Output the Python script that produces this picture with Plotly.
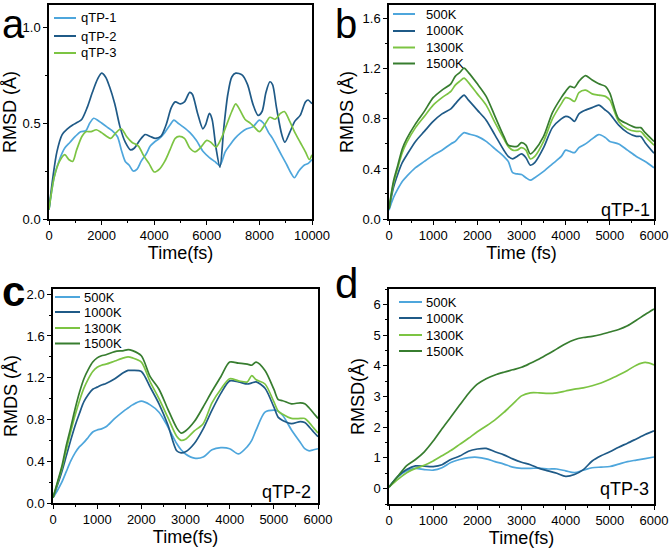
import plotly.graph_objects as go

# ---------------- data ----------------
# Panel a: comparison of three molecules (time in fs, RMSD in Å)
a_t_qtp1 = [0,200,400,600,800,1000,1200,1400,1550,1700,1850,2000,2200,2400,2600,2750,2900,3050,3200,3350,3500,3700,3850,4000,4200,4400,4600,4750,4900,5100,5360,5600,5870,6100,6300,6500,6700,6900,7070,7300,7520,7750,8000,8150,8350,8500,8660,8850,9050,9200,9330,9500,9700,9860,10000]
a_v_qtp1 = [0.05,0.22,0.31,0.37,0.40,0.43,0.455,0.46,0.50,0.525,0.515,0.50,0.48,0.46,0.43,0.36,0.30,0.28,0.25,0.26,0.30,0.34,0.38,0.40,0.42,0.45,0.49,0.515,0.50,0.48,0.45,0.41,0.35,0.32,0.30,0.28,0.35,0.39,0.42,0.45,0.47,0.48,0.515,0.50,0.45,0.42,0.38,0.33,0.28,0.24,0.215,0.25,0.28,0.29,0.31]

a_t_qtp2 = [0,150,300,500,700,900,1100,1250,1450,1650,1850,2000,2150,2300,2500,2700,2900,3100,3250,3450,3650,3850,4050,4250,4450,4650,4800,5000,5150,5350,5450,5650,5850,5950,6100,6200,6350,6500,6650,6800,6950,7100,7350,7550,7750,7950,8100,8250,8400,8500,8650,8850,8970,9150,9350,9550,9750,9850,10000]
a_v_qtp2 = [0.05,0.22,0.35,0.44,0.47,0.49,0.505,0.52,0.58,0.66,0.73,0.76,0.74,0.69,0.60,0.48,0.40,0.36,0.37,0.41,0.44,0.43,0.42,0.43,0.49,0.58,0.61,0.60,0.61,0.66,0.65,0.55,0.47,0.49,0.55,0.52,0.37,0.27,0.48,0.65,0.74,0.76,0.75,0.70,0.60,0.54,0.56,0.66,0.715,0.70,0.58,0.44,0.40,0.45,0.51,0.54,0.61,0.62,0.60]

a_t_qtp3 = [0,200,400,600,750,900,1050,1250,1400,1600,1800,2000,2200,2350,2550,2750,2950,3150,3400,3600,3800,4000,4200,4400,4600,4800,4950,5150,5350,5550,5750,6000,6150,6350,6550,6750,6950,7100,7250,7450,7650,7800,8000,8200,8400,8600,8800,8950,9150,9350,9550,9750,9900,10000]
a_v_qtp3 = [0.05,0.22,0.30,0.335,0.31,0.30,0.36,0.43,0.455,0.455,0.465,0.45,0.43,0.42,0.45,0.47,0.43,0.40,0.38,0.33,0.29,0.245,0.26,0.30,0.36,0.42,0.43,0.42,0.37,0.35,0.37,0.41,0.40,0.375,0.42,0.49,0.56,0.60,0.57,0.52,0.50,0.48,0.455,0.49,0.53,0.52,0.55,0.56,0.51,0.45,0.40,0.35,0.31,0.335]

# Panel b: qTP-1 at four temperatures
b_t = [0,100,200,300,400,600,800,1000,1200,1400,1500,1600,1700,1800,2000,2200,2400,2600,2700,2800,2900,3000,3100,3200,3300,3500,3700,3900,4000,4100,4200,4300,4450,4600,4750,4900,5000,5200,5400,5600,5700,5800,6000]
b_500 = [0.07,0.17,0.24,0.30,0.34,0.41,0.46,0.51,0.55,0.60,0.62,0.66,0.69,0.68,0.66,0.62,0.56,0.50,0.46,0.37,0.36,0.355,0.33,0.31,0.33,0.38,0.44,0.50,0.55,0.54,0.53,0.57,0.60,0.64,0.675,0.65,0.62,0.60,0.55,0.50,0.48,0.46,0.41]
b_1000 = [0.08,0.25,0.36,0.45,0.51,0.62,0.70,0.78,0.84,0.88,0.92,0.96,0.99,0.95,0.87,0.79,0.67,0.55,0.50,0.48,0.50,0.52,0.49,0.43,0.45,0.57,0.73,0.80,0.82,0.81,0.78,0.84,0.87,0.89,0.91,0.87,0.84,0.75,0.69,0.66,0.66,0.61,0.525]
b_1300 = [0.08,0.28,0.41,0.53,0.61,0.73,0.82,0.91,0.97,1.02,1.07,1.10,1.125,1.09,1.00,0.91,0.77,0.64,0.58,0.55,0.55,0.57,0.55,0.48,0.50,0.62,0.80,0.92,0.97,0.96,0.94,1.01,1.03,1.00,0.99,0.98,0.95,0.78,0.72,0.70,0.70,0.66,0.59]
b_1500 = [0.08,0.30,0.43,0.56,0.64,0.76,0.86,0.97,1.03,1.08,1.14,1.17,1.205,1.17,1.08,0.98,0.82,0.66,0.59,0.58,0.58,0.61,0.59,0.52,0.55,0.66,0.85,0.97,1.02,1.06,1.05,1.10,1.145,1.11,1.08,1.06,1.005,0.80,0.76,0.73,0.73,0.69,0.62]

# Panel c: qTP-2 at four temperatures
c_t = [0,100,200,300,400,500,600,700,800,900,1000,1100,1200,1400,1600,1700,1800,2000,2200,2400,2600,2800,2900,3000,3200,3400,3600,3800,4000,4200,4400,4500,4600,4800,5000,5100,5200,5400,5600,5700,5800,5900,6000]
c_500 = [0.05,0.12,0.20,0.30,0.40,0.48,0.54,0.58,0.63,0.68,0.70,0.71,0.73,0.81,0.88,0.91,0.94,0.975,0.94,0.87,0.73,0.57,0.51,0.47,0.43,0.44,0.51,0.53,0.52,0.47,0.54,0.60,0.70,0.87,0.89,0.88,0.84,0.70,0.58,0.52,0.50,0.51,0.52]
c_1000 = [0.05,0.17,0.30,0.45,0.60,0.74,0.86,0.97,1.04,1.09,1.11,1.13,1.145,1.19,1.25,1.27,1.27,1.26,1.11,0.95,0.75,0.50,0.48,0.49,0.57,0.71,0.89,1.05,1.17,1.16,1.14,1.15,1.16,1.10,0.92,0.82,0.79,0.76,0.78,0.77,0.73,0.68,0.635]
c_1300 = [0.05,0.19,0.33,0.51,0.68,0.84,0.98,1.10,1.19,1.26,1.30,1.32,1.33,1.36,1.39,1.40,1.39,1.35,1.16,1.00,0.82,0.64,0.60,0.61,0.69,0.76,0.96,1.09,1.19,1.17,1.16,1.22,1.18,1.14,0.97,0.88,0.85,0.81,0.81,0.81,0.77,0.72,0.67]
c_1500 = [0.05,0.20,0.35,0.55,0.72,0.90,1.06,1.19,1.28,1.35,1.39,1.41,1.42,1.45,1.46,1.47,1.46,1.41,1.21,1.09,0.90,0.72,0.67,0.69,0.78,0.92,1.07,1.21,1.35,1.34,1.33,1.32,1.35,1.27,1.09,0.99,0.98,0.95,0.96,0.95,0.91,0.86,0.81]

# Panel d: qTP-3 at four temperatures
d_t = [0,200,400,600,800,1000,1200,1400,1600,1800,2000,2200,2400,2600,2800,3000,3200,3400,3600,3800,4000,4200,4400,4600,4800,5000,5200,5400,5600,5800,6000]
d_500 = [0.05,0.38,0.58,0.66,0.62,0.60,0.68,0.85,0.95,1.01,1.02,0.97,0.88,0.80,0.70,0.66,0.66,0.67,0.64,0.64,0.58,0.52,0.60,0.68,0.70,0.72,0.80,0.88,0.93,0.98,1.03]
d_1000 = [0.05,0.40,0.62,0.74,0.73,0.72,0.78,0.95,1.06,1.22,1.29,1.31,1.20,1.10,0.97,0.86,0.78,0.66,0.58,0.50,0.40,0.46,0.62,0.90,1.07,1.20,1.35,1.48,1.62,1.76,1.88]
d_1300 = [0.05,0.30,0.52,0.66,0.76,0.90,1.07,1.24,1.44,1.64,1.85,2.04,2.24,2.48,2.75,3.02,3.12,3.12,3.10,3.12,3.18,3.24,3.28,3.35,3.44,3.56,3.70,3.85,4.02,4.11,4.03]
d_1500 = [0.05,0.40,0.75,0.95,1.20,1.55,1.95,2.33,2.72,3.10,3.40,3.58,3.70,3.79,3.87,3.95,4.08,4.22,4.38,4.55,4.72,4.85,4.92,4.96,5.02,5.10,5.18,5.30,5.48,5.67,5.85]

mol_names = ["qTP-1", "qTP-2", "qTP-3"]
temp_names = ["500K", "1000K", "1300K", "1500K"]

# ---------------- style ----------------
W, H = 669, 551
FONT = "Arial, Liberation Sans, sans-serif"
C_LB = "#4ea6dc"   # light blue
C_DB = "#1f5a87"   # dark blue
C_LG = "#7cc443"   # light green
C_DG = "#377d2f"   # dark green
temp_colors = [C_LB, C_DB, C_LG, C_DG]
mol_colors = [C_LB, C_DB, C_LG]
LW = 1.7


def px_x(p):
    return p / W


def px_y(p):
    return 1 - p / H


fig = go.Figure()

panels = {
    # name: (axis id, x-domain px, y-domain px (top, bottom))
    "a": ("", (49, 312), (5, 219)),
    "b": ("2", (389, 654), (5, 219)),
    "c": ("3", (53, 318), (289, 503)),
    "d": ("4", (389, 654), (289, 504)),
}


def add_series(ax, xs, ys, color):
    fig.add_trace(go.Scatter(
        x=xs, y=ys, mode="lines",
        line=dict(color=color, width=LW, shape="spline", smoothing=0.8),
        xaxis="x" + ax, yaxis="y" + ax, showlegend=False, hoverinfo="skip"))


add_series("", a_t_qtp1, a_v_qtp1, mol_colors[0])
add_series("", a_t_qtp2, a_v_qtp2, mol_colors[1])
add_series("", a_t_qtp3, a_v_qtp3, mol_colors[2])
for vals, col in zip([b_500, b_1000, b_1300, b_1500], temp_colors):
    add_series("2", b_t, vals, col)
for vals, col in zip([c_500, c_1000, c_1300, c_1500], temp_colors):
    add_series("3", c_t, vals, col)
for vals, col in zip([d_500, d_1000, d_1300, d_1500], temp_colors):
    add_series("4", d_t, vals, col)

axis_common = dict(
    showline=True, linecolor="black", linewidth=1.5, mirror=True,
    ticks="outside", ticklen=4, tickwidth=1.2, tickcolor="black",
    showgrid=False, zeroline=False,
    tickfont=dict(family=FONT, size=13, color="black"),
)

axes_cfg = {
    "a": dict(xr=[0, 10000], xd=2000, xm=1000, yr=[0, 1.115], yd=0.5, ym=0.25, yf=".1f",
              xt="Time(fs)", yt="RMSD (Å)"),
    "b": dict(xr=[0, 6000], xd=1000, xm=500, yr=[0, 1.71], yd=0.4, ym=0.2, yf=".1f",
              xt="Time (fs)", yt="RMDS (Å)"),
    "c": dict(xr=[0, 6000], xd=1000, xm=500, yr=[0, 2.05], yd=0.4, ym=0.2, yf=".1f",
              xt="Time(fs)", yt="RMDS (Å)"),
    "d": dict(xr=[0, 6000], xd=1000, xm=500, yr=[-0.5, 6.5], yd=1, ym=0.5, yf="d",
              xt="Time(fs)", yt="RMSD(Å)"),
}

layout_axes = {}
for key, (ax, (x0, x1), (yt_, yb_)) in panels.items():
    cfg = axes_cfg[key]
    xname = "xaxis" + ax
    yname = "yaxis" + ax
    layout_axes[xname] = dict(
        axis_common, domain=[px_x(x0), px_x(x1)], anchor="y" + ax,
        range=cfg["xr"], dtick=cfg["xd"], tick0=0, tickformat="d",
        minor=dict(dtick=cfg["xm"], ticks="outside", ticklen=2.5, tickcolor="black", tickwidth=1),
        title=dict(text=cfg["xt"], font=dict(family=FONT, size=18, color="black"), standoff=4),
    )
    layout_axes[yname] = dict(
        axis_common, domain=[px_y(yb_), px_y(yt_)], anchor="x" + ax,
        range=cfg["yr"], dtick=cfg["yd"], tick0=0, tickformat=cfg["yf"],
        minor=dict(dtick=cfg["ym"], tick0=0, ticks="outside", ticklen=2.5, tickcolor="black", tickwidth=1),
        title=dict(text=cfg["yt"], font=dict(family=FONT, size=18, color="black"), standoff=4),
    )

fig.update_layout(**layout_axes)

shapes = []
annotations = []

# ---- legends (drawn as swatch + label) ----
legend_specs = [
    # names, colors, line x0, x1 (px), label x (px), row y centres (px)
    (mol_names, mol_colors, 54, 76, 79, [18, 36, 53]),
    (temp_names, temp_colors, 393, 415, 424, [14, 31, 47.5, 63.5]),
    (temp_names, temp_colors, 55, 80, 82, [297, 312, 328, 343.5]),
    (temp_names, temp_colors, 399, 422, 424, [302, 318, 335, 351]),
]
for names, cols, lx0, lx1, tx, rows in legend_specs:
    for nm, col, ry in zip(names, cols, rows):
        shapes.append(dict(type="line", xref="paper", yref="paper",
                           x0=px_x(lx0), x1=px_x(lx1), y0=px_y(ry), y1=px_y(ry),
                           line=dict(color=col, width=2)))
        annotations.append(dict(text=nm, xref="paper", yref="paper",
                                x=px_x(tx), y=px_y(ry), xanchor="left", yanchor="middle",
                                showarrow=False,
                                font=dict(family=FONT, size=13, color="black")))

# ---- molecule labels inside b, c, d ----
inner_labels = [("qTP-1", 652, 210), ("qTP-2", 313, 492), ("qTP-3", 651, 489)]
for txt, xr, yc in inner_labels:
    annotations.append(dict(text=txt, xref="paper", yref="paper", x=px_x(xr), y=px_y(yc),
                            xanchor="right", yanchor="middle", showarrow=False,
                            font=dict(family=FONT, size=18, color="black")))

# ---- panel letters ----
letters = [("a", 0, 0, 40, False), ("b", 333, 0, 40, False),
           ("c", 0, 266, 42, True), ("d", 333, 258, 42, False)]
for txt, xl, ytop, fs, bold in letters:
    annotations.append(dict(text=("<b>%s</b>" % txt) if bold else txt, xref="paper", yref="paper",
                            x=px_x(xl), y=px_y(ytop), xanchor="left", yanchor="top",
                            showarrow=False,
                            font=dict(family=FONT, size=fs, color="black")))

fig.update_layout(
    width=W, height=H,
    margin=dict(l=0, r=0, t=0, b=0, autoexpand=False),
    paper_bgcolor="white", plot_bgcolor="white",
    showlegend=False,
    shapes=shapes, annotations=annotations,
    font=dict(family=FONT, color="black"),
)

fig.write_html("out.html", config={"displayModeBar": False},
               post_script="document.body.style.margin='0';")
